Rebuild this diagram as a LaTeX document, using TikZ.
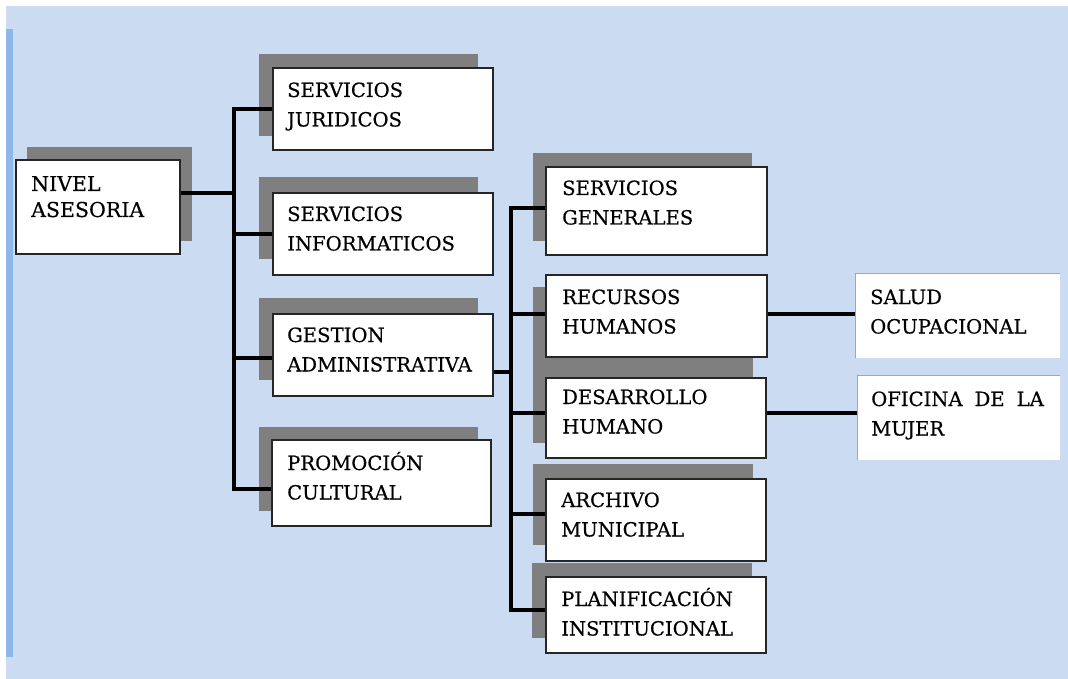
\documentclass[tikz,border=0pt]{standalone}
\usepackage{fontspec}
\setmainfont[FakeBold=0.4]{DejaVu Serif}
\usetikzlibrary{calc}
\definecolor{bg}{HTML}{CADBF2}
\definecolor{leftbar}{HTML}{8CB8EA}
\definecolor{shd}{HTML}{7F7F7F}
\definecolor{edge}{HTML}{A6A6A6}
\begin{document}
\begin{tikzpicture}[x=1pt,y=-1pt,
  box/.style={draw=black!85, line width=1.6pt, fill=white, inner sep=0pt, anchor=north west},
  plainbox/.style={fill=white, inner sep=0pt, anchor=north west},
  txt/.style={font=\fontsize{19.6}{29.5}\selectfont, align=left, text width=200pt, inner sep=0pt, anchor=base west},
  conn/.style={line width=4pt},
  shadow/.style={fill=shd}]
\useasboundingbox (0,0) rectangle (1068,679);
\fill[bg] (6,6) rectangle (1068,679);
\fill[leftbar] (6,29) rectangle (13,657);

% shadows
\fill[shadow] (27,147) rectangle (192,241);
\fill[shadow] (259,54) rectangle (478,136);
\fill[shadow] (259,177) rectangle (478,259);
\fill[shadow] (259,298) rectangle (478,380);
\fill[shadow] (259,427) rectangle (478,511);
\fill[shadow] (533,153) rectangle (752,241);
\fill[shadow] (533,287) rectangle (753,370);
\fill[shadow] (533,362) rectangle (753,443);
\fill[shadow] (533,464) rectangle (753,545);
\fill[shadow] (532,563) rectangle (752,638);

% boxes
\node[box, minimum width=164pt, minimum height=94pt] (nivel) at (15,159) {};
\node[box, minimum width=220pt, minimum height=82pt] (jur) at (272,67) {};
\node[box, minimum width=220pt, minimum height=82pt] (inf) at (272,192) {};
\node[box, minimum width=220pt, minimum height=82pt] (gest) at (272,313) {};
\node[box, minimum width=219pt, minimum height=86pt] (prom) at (271,439) {};
\node[box, minimum width=221pt, minimum height=88pt] (sg) at (545,166) {};
\node[box, minimum width=221pt, minimum height=82pt] (rh) at (545,274) {};
\node[box, minimum width=220pt, minimum height=80pt] (dh) at (545,377) {};
\node[box, minimum width=220pt, minimum height=82pt] (am) at (545,478) {};
\node[box, minimum width=220pt, minimum height=76pt] (pi) at (545,576) {};
\node[plainbox, minimum width=205pt, minimum height=85pt] (sal) at (855,273) {};
\node[plainbox, minimum width=203pt, minimum height=85pt] (of) at (857,375) {};
\draw[edge, line width=1pt] (sal.south west) -- (sal.north west) -- (sal.north east);
\draw[edge, line width=1pt] (of.south west) -- (of.north west) -- (of.north east);

% texts
\node[txt, font=\fontsize{20.5}{26}\selectfont] (nivelT) at ($(nivel.north west)+(16,32)$) {NIVEL\\ASESORIA};
\node[txt] (jurT) at ($(jur.north west)+(15,30)$) {SERVICIOS\\JURIDICOS};
\node[txt] (infT) at ($(inf.north west)+(15,29)$) {SERVICIOS\\INFORMATICOS};
\node[txt] (gestT) at ($(gest.north west)+(15,29)$) {GESTION\\ADMINISTRATIVA};
\node[txt] (promT) at ($(prom.north west)+(16,31)$) {PROMOCIÓN\\CULTURAL};
\node[txt] (sgT) at ($(sg.north west)+(17,29)$) {SERVICIOS\\GENERALES};
\node[txt] (rhT) at ($(rh.north west)+(17,30)$) {RECURSOS\\HUMANOS};
\node[txt] (dhT) at ($(dh.north west)+(17,27)$) {DESARROLLO\\HUMANO};
\node[txt] (amT) at ($(am.north west)+(16,29)$) {ARCHIVO\\MUNICIPAL};
\node[txt] (piT) at ($(pi.north west)+(16,30)$) {PLANIFICACIÓN\\INSTITUCIONAL};
\node[txt] (salT) at ($(sal.north west)+(15,31)$) {SALUD\\OCUPACIONAL};
\node[txt] (ofT) at ($(of.north west)+(14,31)$) {OFICINA\hspace{12pt}DE\hspace{12pt}LA\\MUJER};

% connectors
\coordinate (t1) at (234,0);
\coordinate (t2) at (511,0);
\coordinate (ne) at ($(nivel.east)+(0,-14)$);
\draw[conn] (ne) -- (ne -| t1);
\draw[conn] (jur.west) -| ($(t1 |- prom.west)+(0,6)$) -- ($(prom.west)+(0,6)$);
\draw[conn] (inf.west) -- (inf.west -| t1);
\coordinate (gw) at ($(gest.west)+(0,3)$);
\draw[conn] (gw) -- (gw -| t1);
\coordinate (ge) at ($(gest.east)+(0,17)$);
\draw[conn] (ge) -- (ge -| t2);
\draw[conn] ($(sg.west)+(0,-3)$) -| ($(t2 |- pi.west)+(0,-5)$) -- ($(pi.west)+(0,-5)$);
\coordinate (rw) at ($(rh.west)+(0,-2)$);
\draw[conn] (rw) -- (rw -| t2);
\coordinate (dw) at ($(dh.west)+(0,-5)$);
\draw[conn] (dw) -- (dw -| t2);
\coordinate (aw) at ($(am.west)+(0,-6)$);
\draw[conn] (aw) -- (aw -| t2);
\coordinate (re) at ($(rh.east)+(0,-2)$);
\draw[conn] (re) -- (re -| sal.west);
\coordinate (de) at ($(dh.east)+(0,-5)$);
\draw[conn] (de) -- (de -| of.west);
\end{tikzpicture}
\end{document}
